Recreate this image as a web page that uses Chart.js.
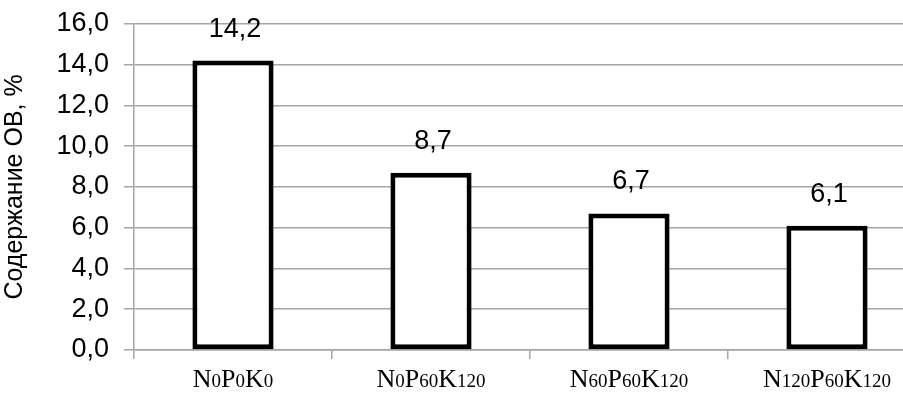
<!DOCTYPE html>
<html>
<head>
<meta charset="utf-8">
<script src="https://cdn.jsdelivr.net/npm/chart.js@4.4.1/dist/chart.umd.min.js"></script>
<style>
  html, body { margin: 0; padding: 0; background: #fff; overflow: hidden; }
  #wrap { width: 903px; height: 396px; overflow: hidden; }
</style>
</head>
<body>
<div id="wrap"><canvas id="chart" width="930" height="396"></canvas></div>
<script>
// treatments: [element, dose] pairs, doses drawn smaller
const treatments = [
  [["N", "0"], ["P", "0"], ["K", "0"]],
  [["N", "0"], ["P", "60"], ["K", "120"]],
  [["N", "60"], ["P", "60"], ["K", "120"]],
  [["N", "120"], ["P", "60"], ["K", "120"]]
];
const categories = ["N0P0K0", "N0P60K120", "N60P60K120", "N120P60K120"];
const organicMatter = [14.2, 8.7, 6.7, 6.1];
const yTicks = { min: 0, max: 16, step: 2 };
const yTitle = "Содержание ОВ, %";

const sansFont = "'Liberation Sans Narrow', 'Arial Narrow', 'Liberation Sans', Arial, sans-serif";
const fmt = v => v.toFixed(1).replace(".", ",");

const valueLabels = {
  id: "valueLabels",
  afterDatasetsDraw(chart) {
    const ctx = chart.ctx;
    const meta = chart.getDatasetMeta(0);
    ctx.save();
    ctx.font = "27px " + sansFont;
    ctx.fillStyle = "#000";
    ctx.textAlign = "center";
    ctx.textBaseline = "bottom";
    meta.data.forEach((bar, i) => {
      ctx.fillText(fmt(organicMatter[i]), bar.x + 2, bar.y - 18);
    });
    ctx.restore();
  }
};

const treatmentLabels = {
  id: "treatmentLabels",
  afterDraw(chart) {
    const ctx = chart.ctx;
    const xs = chart.scales.x;
    const big = "26px 'Liberation Serif', 'Times New Roman', serif";
    const small = "19px 'Liberation Serif', 'Times New Roman', serif";
    ctx.save();
    ctx.fillStyle = "#000";
    ctx.textBaseline = "alphabetic";
    ctx.textAlign = "left";
    treatments.forEach((parts, i) => {
      let w = 0;
      parts.forEach(([el, dose]) => {
        ctx.font = big; w += ctx.measureText(el).width;
        ctx.font = small; w += ctx.measureText(dose).width;
      });
      let x = xs.getPixelForValue(i) - w / 2;
      const y = 387;
      parts.forEach(([el, dose]) => {
        ctx.font = big; ctx.fillText(el, x, y); x += ctx.measureText(el).width;
        ctx.font = small; ctx.fillText(dose, x, y); x += ctx.measureText(dose).width;
      });
    });
    ctx.restore();
  }
};

new Chart(document.getElementById("chart").getContext("2d"), {
  type: "bar",
  data: {
    labels: categories,
    datasets: [{
      data: organicMatter,
      backgroundColor: "#ffffff",
      borderColor: "#000000",
      borderWidth: 5,
      borderSkipped: false,
      barPercentage: 0.41,
      categoryPercentage: 1.0
    }]
  },
  options: {
    responsive: false,
    animation: false,
    events: [],
    layout: { padding: { top: 6, right: 4, left: 0, bottom: 0 } },
    plugins: {
      legend: { display: false },
      tooltip: { enabled: false },
      title: { display: false }
    },
    scales: {
      x: {
        offset: true,
        grid: {
          offset: true,
          drawOnChartArea: false,
          drawTicks: true,
          tickLength: 9,
          color: "#a6a6a6",
          lineWidth: 1.5
        },
        border: { display: true, color: "#a6a6a6", width: 1.5 },
        ticks: { display: false },
        afterFit(scale) { scale.height = 46; }
      },
      y: {
        min: yTicks.min,
        max: yTicks.max,
        ticks: {
          stepSize: yTicks.step,
          padding: 15,
          color: "#000",
          font: { family: sansFont, size: 27, lineHeight: 0.66 },
          callback: v => fmt(v)
        },
        grid: {
          color: "#a6a6a6",
          lineWidth: 1.5,
          tickLength: 10
        },
        border: { display: true, color: "#a6a6a6", width: 1.5 },
        title: {
          display: true,
          text: yTitle,
          color: "#000",
          font: { family: sansFont, size: 25 },
          padding: { top: 0, bottom: 4 }
        },
        afterFit(scale) { scale.width = 134; }
      }
    }
  },
  plugins: [valueLabels, treatmentLabels]
});
</script>
</body>
</html>
